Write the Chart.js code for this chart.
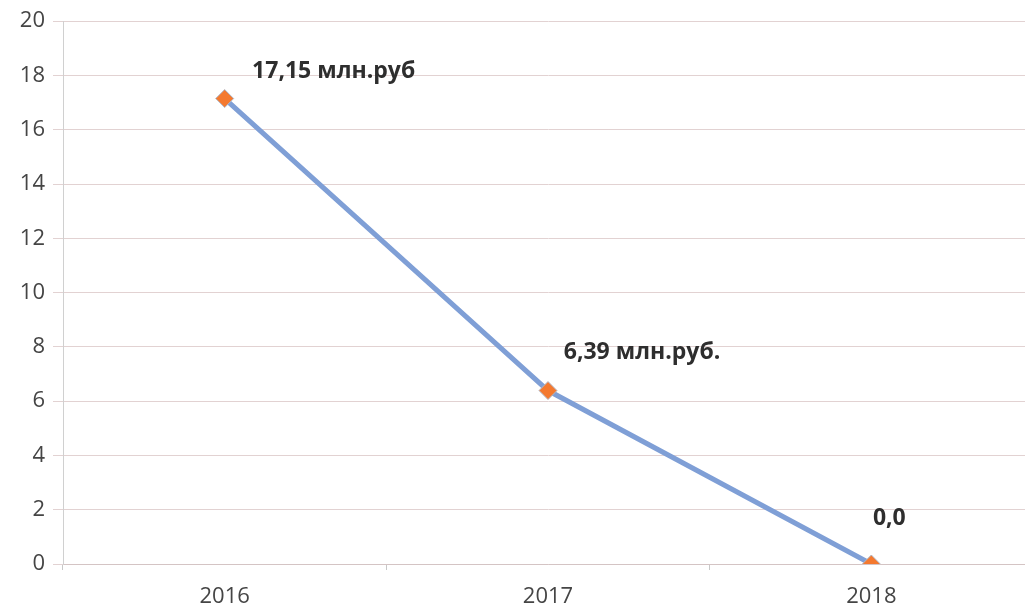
<!DOCTYPE html>
<html>
<head>
<meta charset="utf-8">
<script src="https://cdn.jsdelivr.net/npm/chart.js@4"></script>
<style>
	html, body { margin: 0; padding: 0; background: #fff; overflow: hidden; }
	.wrap { position: relative; width: 1043px; height: 609px; }
</style>
</head>
<body>
<div class="wrap"><canvas id="chartCanvas"></canvas></div>
<script>
const years = ['2016', '2017', '2018'];
const amounts = [17.15, 6.39, 0];
const pointLabels = ['17,15 млн.руб', '6,39 млн.руб.', '0,0'];
const yTicks = [0, 2, 4, 6, 8, 10, 12, 14, 16, 18, 20];

const textColor = '#454545';
const fontFamily = '"Open Sans", "Noto Sans", sans-serif';

// label centre relative to its point
const labelOffsets = [[109, -27], [94, -38], [18, -46]];

const valueLabels = {
	id: 'valueLabels',
	afterDatasetsDraw(chart) {
		const ctx = chart.ctx;
		const meta = chart.getDatasetMeta(0);
		ctx.save();
		ctx.font = 'bold 23px ' + fontFamily;
		ctx.fillStyle = '#2e2e2e';
		ctx.textAlign = 'center';
		ctx.textBaseline = 'middle';
		meta.data.forEach((pt, i) => {
			const off = labelOffsets[i];
			ctx.fillText(pointLabels[i], pt.x + off[0], pt.y + off[1]);
		});
		ctx.restore();
	}
};

const ctx = document.getElementById('chartCanvas').getContext('2d');
new Chart(ctx, {
	type: 'line',
	data: {
		labels: years,
		datasets: [{
			data: amounts,
			borderColor: '#7f9fd6',
			borderWidth: 5,
			pointStyle: 'rectRot',
			pointRadius: 9,
			pointBackgroundColor: '#f4792f',
			pointBorderColor: '#b0b8c8',
			pointBorderWidth: 1,
			tension: 0
		}]
	},
	options: {
		responsive: true,
		maintainAspectRatio: false,
		animation: false,
		layout: { padding: { top: 14, right: 4, left: 0, bottom: 0 } },
		plugins: {
			legend: { display: false },
			tooltip: { enabled: false }
		},
		scales: {
			x: {
				offset: true,
				grid: {
					offset: true,
					drawOnChartArea: false,
					tickLength: 6,
					color: '#c8c8c8'
				},
				border: { color: '#d4c4c4' },
				ticks: {
					color: textColor,
					font: { size: 22, family: fontFamily },
					padding: 14
				},
				afterFit(scale) { scale.height = 45; }
			},
			y: {
				min: 0,
				max: 20,
				afterBuildTicks(scale) { scale.ticks = yTicks.map(v => ({ value: v })); },
				grid: {
					color: '#e2d2d2',
					tickLength: 10
				},
				border: { color: '#d0d0d0' },
				ticks: {
					color: textColor,
					font: { size: 22, family: fontFamily },
					padding: 8
				},
				afterFit(scale) { scale.width = 63; }
			}
		}
	},
	plugins: [valueLabels]
});
</script>
</body>
</html>
